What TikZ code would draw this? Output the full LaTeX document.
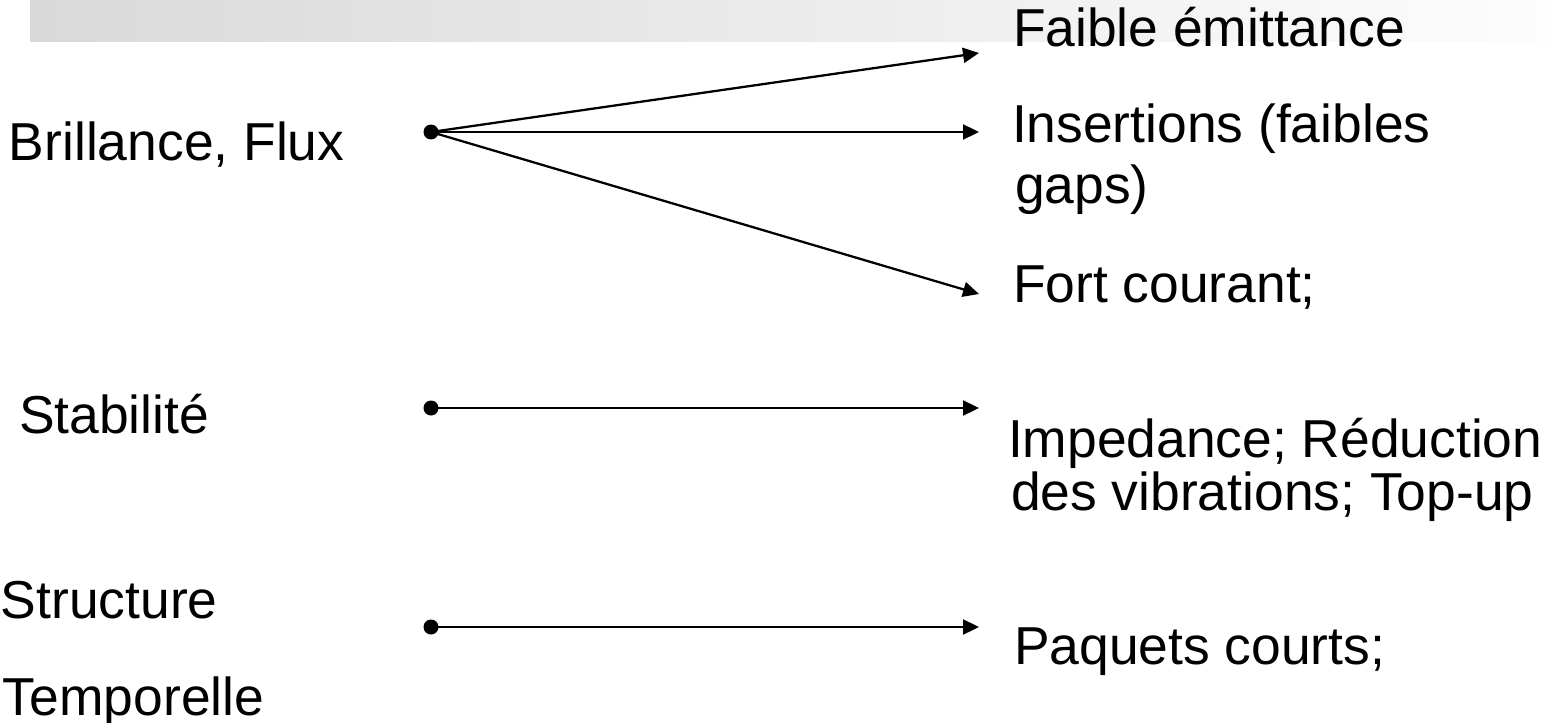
\documentclass[tikz,border=0pt]{standalone}
\usepackage{fontspec}
\setmainfont{Liberation Sans}
\usetikzlibrary{arrows.meta}
\definecolor{barleft}{HTML}{D9D9D9}
\definecolor{barright}{HTML}{FDFDFD}
\begin{document}
\begin{tikzpicture}[x=0.02cm,y=-0.02cm,
  lbl/.style={anchor=base west,inner sep=0pt,outer sep=0pt,align=left,
    font=\fontsize{30.4}{30.4}\selectfont},
  dotnode/.style={circle,fill=black,inner sep=0pt,minimum size=0.3cm},
  link/.style={line width=1.3pt,-{Triangle[length=0.32cm,width=0.3cm]}}]
\useasboundingbox (0,0) rectangle (1552,723);
% title band
\shade[left color=barleft,right color=barright] (30,0) rectangle (1552,42);

% left-hand properties
\node[lbl] (brill) at (9,160) {Brillance, Flux};
\node[lbl] (stab) at (19,433) {Stabilité};
\node[lbl] (struct) at (1,618) {Structure};
\node[lbl] (temp) at (3,715) {Temporelle};

% right-hand means
\node[lbl] (emit) at (1013,47) {Faible émittance};
\node[lbl] (ins1) at (1012,143) {Insertions (faibles};
\node[lbl] (ins2) at (1015,203) {gaps)};
\node[lbl] (fort) at (1013,302) {Fort courant;};
\node[lbl] (imp1) at (1008,457) {Impedance; Réduction};
\node[lbl] (imp2) at (1011,510) {des vibrations; Top-up};
\node[lbl] (paq) at (1014,664) {Paquets courts;};

% branching points
\node[dotnode] (d1) at (431,132) {};
\node[dotnode] (d2) at (431,408) {};
\node[dotnode] (d3) at (431,627) {};

% arrow ends
\coordinate (e1) at (979,53);
\coordinate (e2) at (979,132);
\coordinate (e3) at (979,294);
\coordinate (e4) at (979,408);
\coordinate (e5) at (979,627);

\draw[link] (d1.center) -- (e1);
\draw[link] (d1.center) -- (e2);
\draw[link] (d1.center) -- (e3);
\draw[link] (d2.center) -- (e4);
\draw[link] (d3.center) -- (e5);
\end{tikzpicture}
\end{document}
